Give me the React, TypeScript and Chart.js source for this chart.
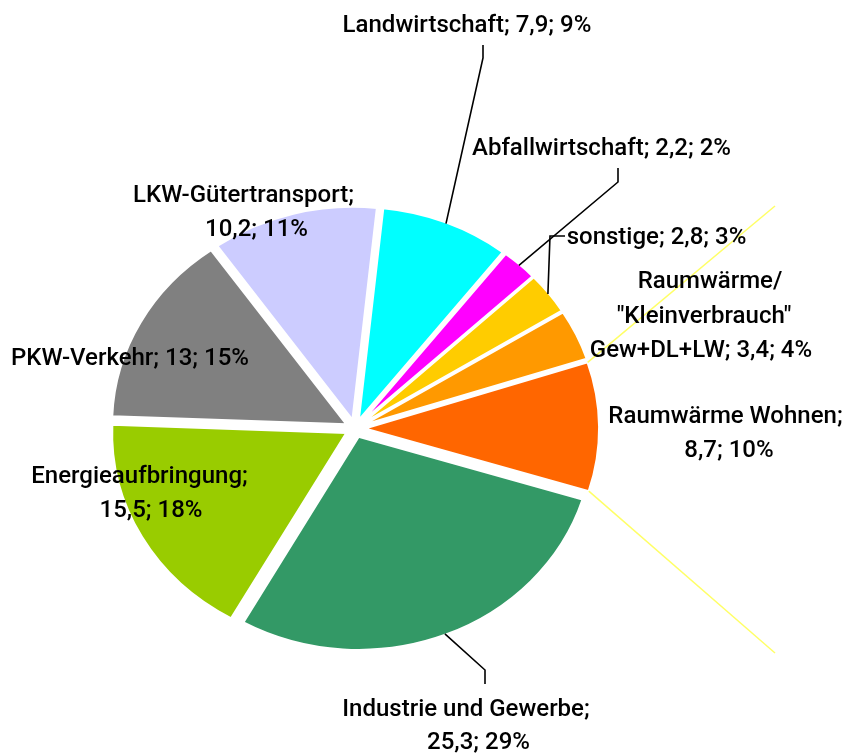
import React, { useEffect, useRef } from "react";
import { Chart, registerables } from "chart.js";

Chart.register(...registerables);

// ---- data ----
const CATEGORIES = [
  "Landwirtschaft",
  "Abfallwirtschaft",
  "sonstige",
  'Raumwärme/ "Kleinverbrauch" Gew+DL+LW',
  "Raumwärme Wohnen",
  "Industrie und Gewerbe",
  "Energieaufbringung",
  "PKW-Verkehr",
  "LKW-Gütertransport",
];
const VALUES = [7.9, 2.2, 2.8, 3.4, 8.7, 25.3, 15.5, 13, 10.2];
const PERCENT_LABELS = ["9%", "2%", "3%", "4%", "10%", "29%", "18%", "15%", "11%"];
const COLORS = [
  "#00FFFF",
  "#FF00FF",
  "#FFCC00",
  "#FF9900",
  "#FF6600",
  "#339966",
  "#99CC00",
  "#808080",
  "#CCCCFF",
];

// ---- layout / style ----
const W = 842;
const H = 755;
const CENTER_X = 355;
const CENTER_Y = 428.5;
const RADIUS = 213;
const STRETCH_X = 1.1;
const EXPLODE = 9;
const ROTATION = 6;
const FONT = '500 24px Roboto, "Liberation Sans", Arial, sans-serif';

type Pt = [number, number];
const LABEL_LAYOUT: { wrap: number[]; lines: Pt[]; leader?: Pt[] }[] = [
  { wrap: [3], lines: [[467, 32]], leader: [[483, 45], [483, 58]] },
  { wrap: [3], lines: [[601.5, 155]], leader: [[618, 168], [618, 182]] },
  { wrap: [3], lines: [[656.5, 244]], leader: [[565, 236], [550, 236]] },
  { wrap: [1, 1, 3], lines: [[710, 288], [704, 322.5], [701, 356.5]] },
  { wrap: [2, 2], lines: [[725.5, 423], [729, 456.5]] },
  { wrap: [3, 2], lines: [[466, 716], [478.5, 749]], leader: [[485, 684], [485, 670]] },
  { wrap: [1, 2], lines: [[139.5, 483], [151, 517]] },
  { wrap: [3], lines: [[130, 365]] },
  { wrap: [1, 2], lines: [[243.5, 201.5], [256.5, 236]] },
];
const BRACKET_INDEX = 4;
const BRACKET_ENDS: Pt[] = [[775, 206], [775, 653]];

const fmt = (v: number) => String(v).replace(".", ",");

function arcPoint(arc: any, angle: number, r: number): Pt {
  const mid = (arc.startAngle + arc.endAngle) / 2;
  const px = Math.cos(mid) * EXPLODE + Math.cos(angle) * r;
  const py = Math.sin(mid) * EXPLODE + Math.sin(angle) * r;
  return [arc.x + STRETCH_X * px, arc.y + py];
}

const explodedPie = {
  id: "explodedPie",
  beforeDatasetDraw(chart: any, args: any) {
    const ctx = chart.ctx as CanvasRenderingContext2D;
    args.meta.data.forEach((arc: any) => {
      const mid = (arc.startAngle + arc.endAngle) / 2;
      ctx.save();
      ctx.translate(arc.x, arc.y);
      ctx.scale(STRETCH_X, 1);
      ctx.translate(-arc.x, -arc.y);
      ctx.translate(Math.cos(mid) * EXPLODE, Math.sin(mid) * EXPLODE);
      arc.draw(ctx);
      ctx.restore();
    });
    return false;
  },
  afterDraw(chart: any) {
    const ctx = chart.ctx as CanvasRenderingContext2D;
    const arcs = chart.getDatasetMeta(0).data;
    ctx.save();
    // yellow bracket lines
    const b = arcs[BRACKET_INDEX];
    const corners = [
      arcPoint(b, b.startAngle, b.outerRadius),
      arcPoint(b, b.endAngle, b.outerRadius),
    ];
    ctx.strokeStyle = "#FFFF66";
    ctx.lineWidth = 1.5;
    corners.forEach((c, i) => {
      ctx.beginPath();
      ctx.moveTo(c[0], c[1]);
      ctx.lineTo(BRACKET_ENDS[i][0], BRACKET_ENDS[i][1]);
      ctx.stroke();
    });
    // leader lines + labels
    ctx.strokeStyle = "#000";
    ctx.lineWidth = 1.6;
    ctx.fillStyle = "#000";
    ctx.font = FONT;
    ctx.textAlign = "center";
    ctx.textBaseline = "alphabetic";
    LABEL_LAYOUT.forEach((lay, i) => {
      const arc = arcs[i];
      if (lay.leader) {
        const mid = (arc.startAngle + arc.endAngle) / 2;
        const end = arcPoint(arc, mid, arc.outerRadius - 1);
        ctx.beginPath();
        ctx.moveTo(lay.leader[0][0], lay.leader[0][1]);
        for (let k = 1; k < lay.leader.length; k++) ctx.lineTo(lay.leader[k][0], lay.leader[k][1]);
        ctx.lineTo(end[0], end[1]);
        ctx.stroke();
      }
      const words = `${CATEGORIES[i]}; ${fmt(VALUES[i])}; ${PERCENT_LABELS[i]}`.split(" ");
      let w = 0;
      lay.wrap.forEach((n, li) => {
        const text = words.slice(w, w + n).join(" ");
        w += n;
        ctx.fillText(text, lay.lines[li][0], lay.lines[li][1]);
      });
    });
    ctx.restore();
  },
};

export default function App() {
  const ref = useRef<HTMLCanvasElement | null>(null);
  useEffect(() => {
    document.body.style.margin = "0";
    const canvas = ref.current;
    if (!canvas) return;
    const chart = new Chart(canvas, {
      type: "pie",
      data: {
        labels: CATEGORIES,
        datasets: [
          {
            data: VALUES,
            backgroundColor: COLORS,
            borderColor: "#FFFFFF",
            borderWidth: 2,
          },
        ],
      },
      options: {
        responsive: false,
        animation: false,
        events: [],
        rotation: ROTATION,
        radius: RADIUS,
        layout: {
          padding: {
            left: 0,
            right: W - 2 * CENTER_X,
            top: 2 * CENTER_Y - H,
            bottom: 0,
          },
        },
        plugins: {
          legend: { display: false },
          tooltip: { enabled: false },
        },
      } as any,
      plugins: [explodedPie],
    });
    return () => chart.destroy();
  }, []);
  return (
    <div style={{ position: "fixed", left: 0, top: 0, width: W, height: H, background: "#fff" }}>
      <canvas ref={ref} width={W} height={H} style={{ width: W, height: H, display: "block" }} />
    </div>
  );
}
